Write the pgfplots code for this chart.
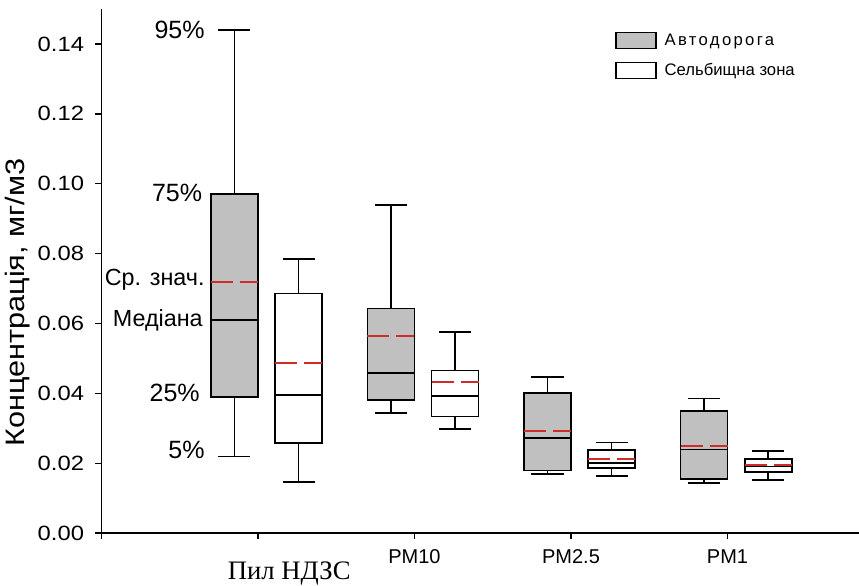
\documentclass[border=0pt]{standalone}
\usepackage{fontspec}
\setmainfont{Liberation Sans}
\newfontfamily\serifcyr{Liberation Serif}
\newfontfamily\ylabfont[FakeStretch=1.15]{Liberation Sans}
\usepackage{pgfplots}
\pgfplotsset{compat=1.18}
\definecolor{boxgray}{RGB}{192,192,192}
\definecolor{meanred}{RGB}{205,45,40}
% whiskers: center, cap left, cap right, lower whisker, Q1, Q3, upper whisker
\newcommand{\whisk}[7]{%
  \addplot[forget plot, draw=black, line width=1.2pt] coordinates {(#1,#6) (#1,#7)};
  \addplot[forget plot, draw=black, line width=1.2pt] coordinates {(#2,#7) (#3,#7)};
  \addplot[forget plot, draw=black, line width=1.2pt] coordinates {(#1,#5) (#1,#4)};
  \addplot[forget plot, draw=black, line width=1.2pt] coordinates {(#2,#4) (#3,#4)};
}
% box: left, right, Q1, median, Q3, mean, fill
\newcommand{\boxx}[7]{%
  \addplot[forget plot, fill=#7, draw=black, line width=1.2pt] coordinates {(#1,#3) (#2,#3) (#2,#5) (#1,#5)} -- cycle;
  \addplot[forget plot, draw=black, line width=1.2pt] coordinates {(#1,#4) (#2,#4)};
  \addplot[forget plot, draw=meanred, line width=1.3pt, dash pattern=on 16.5pt off 5.2pt] coordinates {(#1,#6) (#2,#6)};
}
\begin{document}
\begin{tikzpicture}
\begin{axis}[
  scale only axis,
  width=568pt, height=393pt,
  xmin=0, xmax=4.84, ymin=0, ymax=0.15,
  clip=false,
  axis x line=bottom, axis y line=left,
  axis line style={-, line width=1.1pt},
  tick align=outside,
  major tick length=4.5pt,
  every tick/.style={black, line width=1.1pt},
  xtick={0,1,2,3,4},
  xticklabels={,,PM10,PM2.5,PM1},
  xticklabel style={font=\fontsize{15}{17}\selectfont, yshift=-4pt},
  ytick={0,0.02,0.04,0.06,0.08,0.10,0.12,0.14},
  yticklabel style={font=\ylabfont\fontsize{15.5}{17}\selectfont, xshift=-5pt,
     /pgf/number format/.cd, fixed, fixed zerofill, precision=2, assume math mode=true},
  ylabel={\ylabfont\fontsize{20}{22}\selectfont Концентрація, мг/м3},
  ylabel style={at={(rel axis cs:0,0.44)}, yshift=63pt, anchor=center},
  legend style={at={(rel axis cs:0.678,0.958)}, anchor=north west, draw=none, fill=none,
     font=\fontsize{12.5}{14}\selectfont, row sep=8pt, inner sep=0pt},
  legend cell align=left,
]
\addlegendimage{legend image code/.code={\draw[fill=boxgray, draw=black, line width=1pt] (0pt,-6pt) rectangle (30pt,6pt);}}
\addlegendentry{\hspace*{4pt}\addfontfeature{LetterSpace=14}Автодорога}
\addlegendimage{legend image code/.code={\draw[fill=white, draw=black, line width=1pt] (0pt,-6pt) rectangle (30pt,6pt);}}
\addlegendentry{\hspace*{4pt}Сельбищна зона}

% Пил НДЗС
\whisk{0.85}{0.7475}{0.9525}{0.0220}{0.0389}{0.0971}{0.1440}
\boxx{0.70}{1.00}{0.0389}{0.0610}{0.0971}{0.0719}{boxgray}
\whisk{1.26}{1.1575}{1.3625}{0.0146}{0.0258}{0.0686}{0.0784}
\boxx{1.11}{1.41}{0.0258}{0.0395}{0.0686}{0.0487}{white}
% PM10
\whisk{1.85}{1.7475}{1.9525}{0.0344}{0.0381}{0.0643}{0.0940}
\boxx{1.70}{2.00}{0.0381}{0.0459}{0.0643}{0.0565}{boxgray}
\whisk{2.26}{2.1575}{2.3625}{0.0298}{0.0334}{0.0466}{0.0575}
\boxx{2.11}{2.41}{0.0334}{0.0392}{0.0466}{0.0432}{white}
% PM2.5
\whisk{2.85}{2.7475}{2.9525}{0.0169}{0.0180}{0.0401}{0.0447}
\boxx{2.70}{3.00}{0.0180}{0.0273}{0.0401}{0.0292}{boxgray}
\whisk{3.26}{3.1575}{3.3625}{0.0163}{0.0187}{0.0238}{0.0259}
\boxx{3.11}{3.41}{0.0187}{0.0201}{0.0238}{0.0212}{white}
% PM1
\whisk{3.85}{3.7475}{3.9525}{0.0143}{0.0155}{0.0349}{0.0385}
\boxx{3.70}{4.00}{0.0155}{0.0239}{0.0349}{0.0250}{boxgray}
\whisk{4.26}{4.1575}{4.3625}{0.0152}{0.0175}{0.0213}{0.0235}
\boxx{4.11}{4.41}{0.0175}{0.0191}{0.0213}{0.0195}{white}

% annotations
\node[anchor=east, inner sep=0pt, font=\fontsize{18.75}{20}\selectfont] at (axis cs:0.661,0.1440) {95\%};
\node[anchor=east, inner sep=0pt, font=\fontsize{18.75}{20}\selectfont] at (axis cs:0.645,0.0973) {75\%};
\node[anchor=east, inner sep=0pt, font=\fontsize{17.5}{19}\selectfont] at (axis cs:0.661,0.0724) {Ср. знач.};
\node[anchor=east, inner sep=0pt, font=\fontsize{17.5}{19}\selectfont] at (axis cs:0.649,0.0610) {Медіана};
\node[anchor=east, inner sep=0pt, font=\fontsize{18.75}{20}\selectfont] at (axis cs:0.630,0.0401) {25\%};
\node[anchor=east, inner sep=0pt, font=\fontsize{18.75}{20}\selectfont] at (axis cs:0.661,0.0238) {5\%};
\node[inner sep=0pt, font=\serifcyr\fontsize{20}{22}\selectfont] at (axis cs:1.2,-0.0115) {Пил НДЗС};

\coordinate (bl) at (rel axis cs:0,0);
\coordinate (tr) at (rel axis cs:1,1);
\end{axis}
\pgfresetboundingbox
\path ([xshift=-76pt,yshift=-39pt]bl) rectangle ([yshift=6.75pt]tr);
\end{tikzpicture}
\end{document}
